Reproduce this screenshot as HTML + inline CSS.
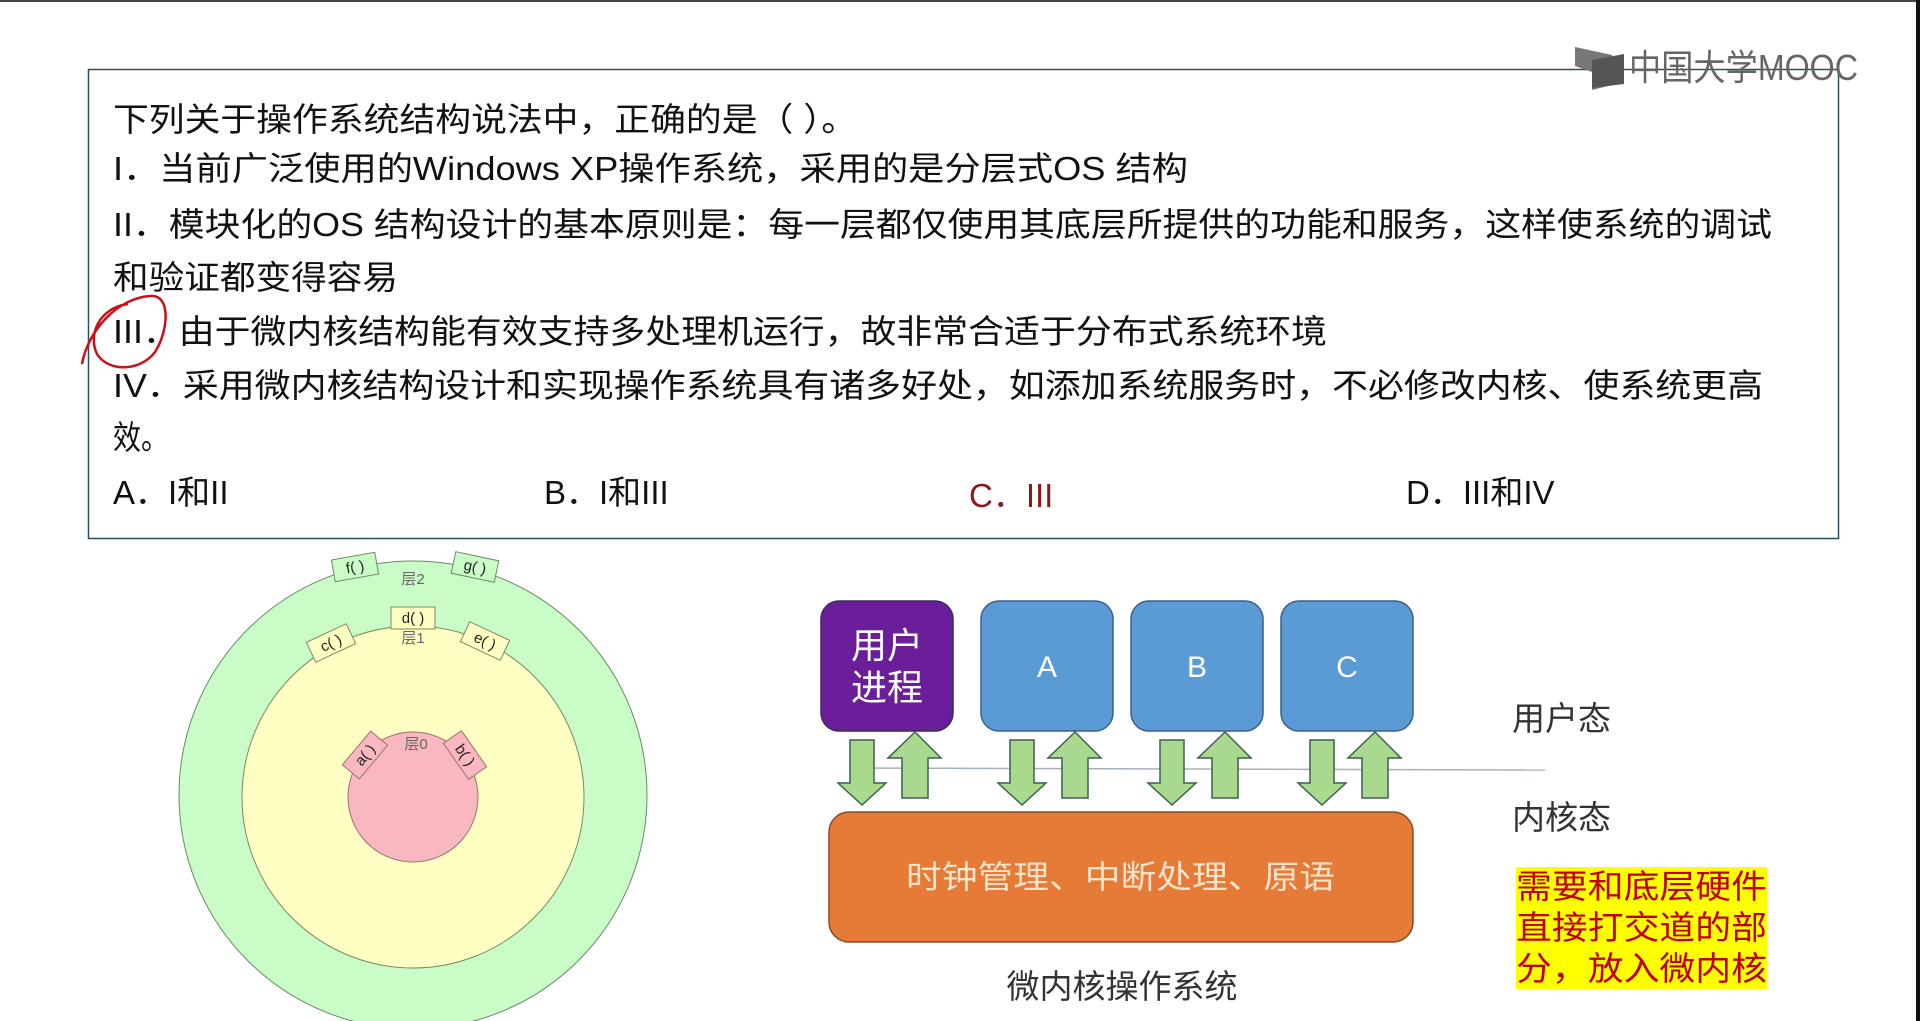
<!DOCTYPE html>
<html><head><meta charset="utf-8"><style>
html,body{margin:0;padding:0;background:#fff;}
svg{display:block;}
</style></head><body>
<svg width="1920" height="1021" viewBox="0 0 1920 1021" xmlns="http://www.w3.org/2000/svg" font-family="Liberation Sans, Noto Sans CJK SC, sans-serif">
<rect x="0" y="0" width="1920" height="1021" fill="#fff"/>
<rect x="0" y="0" width="1920" height="2" fill="#444"/>
<rect x="1916" y="0" width="4" height="1021" fill="#111"/>
<rect x="88.5" y="69.5" width="1750" height="469" fill="none" stroke="#2f4f5f" stroke-width="1.5"/>
<g fill="#666">
<path d="M1575,47 L1612,55 L1612,85 L1592,90 L1592,72 L1575,66 Z" fill="#777"/>
<path d="M1592,60 L1624,54 L1624,84 L1592,88 Z" fill="#555"/>
<text x="1629" y="80" font-size="36" fill="#666" textLength="229" lengthAdjust="spacingAndGlyphs">中国大学MOOC</text>
</g>
<g font-size="33" fill="#111">
<text x="113" y="131" textLength="744" lengthAdjust="spacingAndGlyphs">下列关于操作系统结构说法中，正确的是（ ）。</text>
<text x="113" y="180" textLength="1075" lengthAdjust="spacingAndGlyphs">I．当前广泛使用的Windows XP操作系统，采用的是分层式OS 结构</text>
<text x="113" y="236" textLength="1659" lengthAdjust="spacingAndGlyphs">II．模块化的OS 结构设计的基本原则是：每一层都仅使用其底层所提供的功能和服务，这样使系统的调试</text>
<text x="113" y="289" textLength="285" lengthAdjust="spacingAndGlyphs">和验证都变得容易</text>
<text x="113" y="343" textLength="1214" lengthAdjust="spacingAndGlyphs">III．由于微内核结构能有效支持多处理机运行，故非常合适于分布式系统环境</text>
<text x="113" y="397" textLength="1650" lengthAdjust="spacingAndGlyphs">IV．采用微内核结构设计和实现操作系统具有诸多好处，如添加系统服务时，不必修改内核、使系统更高</text>
<text x="113" y="449" textLength="56" lengthAdjust="spacingAndGlyphs">效。</text>
<text x="113" y="504">A．I和II</text>
<text x="544" y="504">B．I和III</text>
<text x="969" y="507" fill="#8b1a1a">C．III</text>
<text x="1406" y="504">D．III和IV</text>
</g>
<path d="M82,364 C88,330 118,298 150,296 C172,294 168,332 155,352 C140,372 108,372 97,354 C88,336 98,308 128,304" fill="none" stroke="#c8101a" stroke-width="2.5"/>
<circle cx="413" cy="795" r="234" fill="#c9fcc6" stroke="#6a8a68" stroke-width="1"/>
<circle cx="413" cy="797" r="171" fill="#ffffc4" stroke="#7a8a60" stroke-width="1"/>
<circle cx="413" cy="797" r="65" fill="#f9b8c0" stroke="#9a7070" stroke-width="1"/>
<g font-size="15" fill="#666" text-anchor="middle">
<text x="413" y="584">层2</text>
<text x="413" y="643">层1</text>
<text x="416" y="749">层0</text>
</g>
<g font-size="15" fill="#222" text-anchor="middle">
<g transform="translate(355,567) rotate(-10)"><rect x="-22" y="-11" width="44" height="22" fill="#c9fcc6" stroke="#6a8a68"/><text y="5">f( )</text></g>
<g transform="translate(475,567) rotate(12)"><rect x="-22" y="-11" width="44" height="22" fill="#c9fcc6" stroke="#6a8a68"/><text y="5">g( )</text></g>
<g transform="translate(413,618)"><rect x="-22" y="-11" width="44" height="22" fill="#ffffc4" stroke="#7a8a60"/><text y="5">d( )</text></g>
<g transform="translate(331,643) rotate(-25)"><rect x="-22" y="-11" width="44" height="22" fill="#ffffc4" stroke="#7a8a60"/><text y="5">c( )</text></g>
<g transform="translate(485,641) rotate(25)"><rect x="-22" y="-11" width="44" height="22" fill="#ffffc4" stroke="#7a8a60"/><text y="5">e( )</text></g>
<g transform="translate(365,755) rotate(-50)"><rect x="-22" y="-11" width="44" height="22" fill="#f9b8c0" stroke="#9a7070"/><text y="5">a( )</text></g>
<g transform="translate(465,755) rotate(55)"><rect x="-22" y="-11" width="44" height="22" fill="#f9b8c0" stroke="#9a7070"/><text y="5">b( )</text></g>
</g>
<line x1="857" y1="768" x2="1545" y2="770" stroke="#a8b0bc" stroke-width="1.5"/>
<rect x="821" y="601" width="132" height="130" rx="18" fill="#6a1e9a" stroke="#3a2a5a" stroke-width="1.5"/>
<rect x="981" y="601" width="132" height="130" rx="18" fill="#5b9bd5" stroke="#3a5f8a" stroke-width="1.5"/>
<rect x="1131" y="601" width="132" height="130" rx="18" fill="#5b9bd5" stroke="#3a5f8a" stroke-width="1.5"/>
<rect x="1281" y="601" width="132" height="130" rx="18" fill="#5b9bd5" stroke="#3a5f8a" stroke-width="1.5"/>
<g fill="#fff" text-anchor="middle" font-size="36">
<text x="887" y="658">用户</text>
<text x="887" y="700">进程</text>
</g>
<g fill="#fff" text-anchor="middle" font-size="30">
<text x="1047" y="677">A</text>
<text x="1197" y="677">B</text>
<text x="1347" y="677">C</text>
</g>
<g fill="#a9d98e" stroke="#3f5f4f" stroke-width="1.5">
<g id="ar"><path d="M850,740 L874,740 L874,783 L886,783 L862,805 L838,783 L850,783 Z"/><path d="M915,732 L941,758 L928,758 L928,798 L902,798 L902,758 L888,758 Z"/></g>
<use href="#ar" x="160"/><use href="#ar" x="310"/><use href="#ar" x="460"/>
</g>
<rect x="829" y="812" width="584" height="130" rx="20" fill="#e57b37" stroke="#8a4a20" stroke-width="1.5"/>
<text x="906" y="888" font-size="32" fill="#fbe3cc" textLength="429" lengthAdjust="spacingAndGlyphs">时钟管理、中断处理、原语</text>
<text x="1122" y="998" text-anchor="middle" font-size="33" fill="#333">微内核操作系统</text>
<text x="1512" y="730" font-size="33" fill="#333">用户态</text>
<text x="1512" y="829" font-size="33" fill="#333">内核态</text>
<rect x="1516" y="867" width="251" height="122" fill="#ffff00"/>
<g font-size="33" fill="#c00000">
<text x="1516" y="898" textLength="251" lengthAdjust="spacingAndGlyphs">需要和底层硬件</text>
<text x="1516" y="939" textLength="251" lengthAdjust="spacingAndGlyphs">直接打交道的部</text>
<text x="1516" y="980" textLength="251" lengthAdjust="spacingAndGlyphs">分，放入微内核</text>
</g>
</svg>
</body></html>
